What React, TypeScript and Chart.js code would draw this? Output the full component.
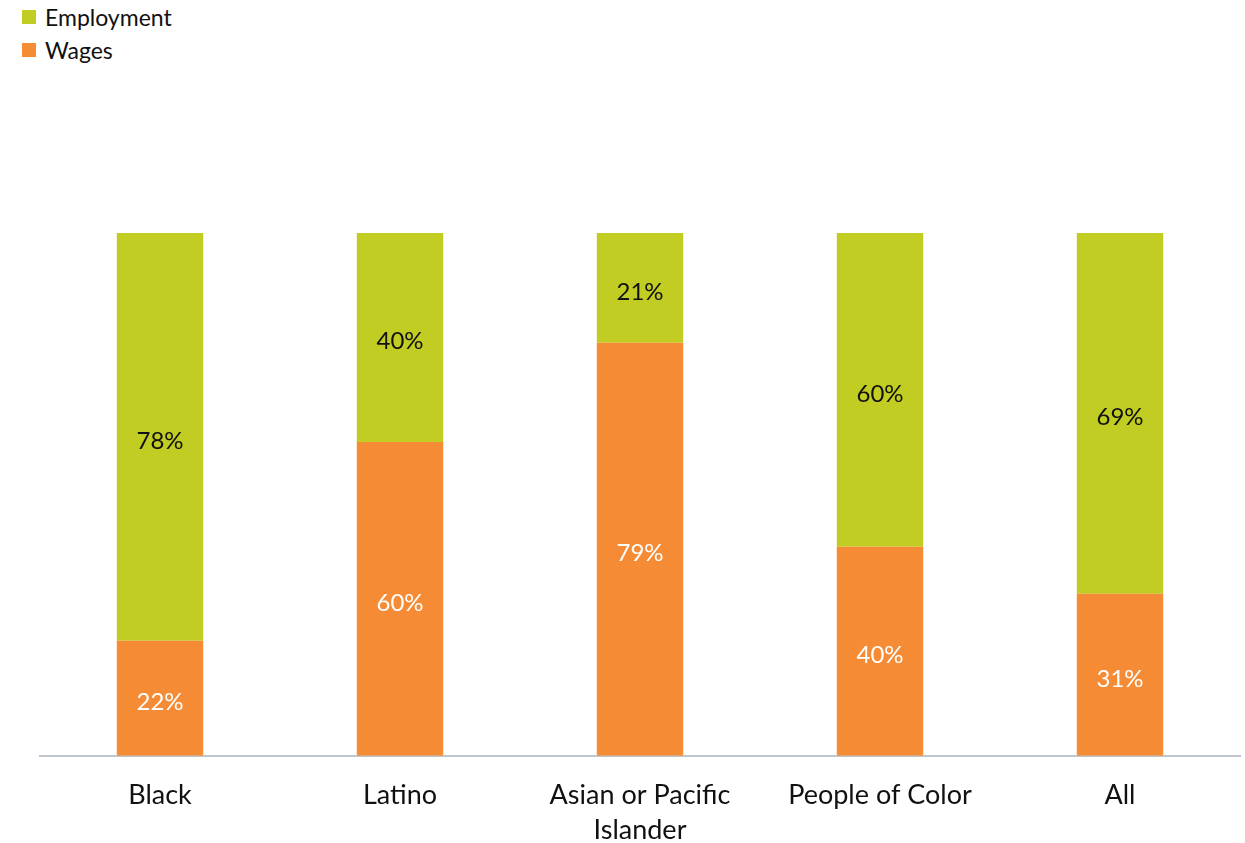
import React, { useEffect, useRef } from "react";
import { Chart, registerables } from "chart.js";

Chart.register(...registerables);

const categories: (string | string[])[] = [
  "Black",
  "Latino",
  ["Asian or Pacific", "Islander"],
  "People of Color",
  "All",
];
const wages = [22, 60, 79, 40, 31];
const employment = [78, 40, 21, 60, 69];

const seriesNames = ["Employment", "Wages"];
const seriesColors = ["#C2CD23", "#F58B35"];
const labelColors = ["#111111", "#FFFFFF"];

const FONT = "Lato, 'Open Sans', sans-serif";

const valueLabelPlugin = {
  id: "valueLabels",
  afterDatasetsDraw(chart: any) {
    const ctx = chart.ctx;
    ctx.save();
    ctx.font = `24px ${FONT}`;
    ctx.textAlign = "center";
    ctx.textBaseline = "middle";
    chart.data.datasets.forEach((ds: any, di: number) => {
      const meta = chart.getDatasetMeta(di);
      meta.data.forEach((bar: any, i: number) => {
        const v = ds.data[i];
        const cy = (bar.y + bar.base) / 2 + 4;
        ctx.fillStyle = ds.labelColor;
        ctx.fillText(`${v}%`, bar.x, cy);
      });
    });
    ctx.restore();
  },
};

export default function App() {
  const canvasRef = useRef<HTMLCanvasElement | null>(null);

  useEffect(() => {
    const canvas = canvasRef.current;
    if (!canvas) return;
    const chart = new Chart(canvas, {
      type: "bar",
      data: {
        labels: categories,
        datasets: [
          {
            label: seriesNames[1],
            data: wages,
            backgroundColor: seriesColors[1],
            labelColor: labelColors[1],
            barPercentage: 0.36,
            categoryPercentage: 1,
          } as any,
          {
            label: seriesNames[0],
            data: employment,
            backgroundColor: seriesColors[0],
            labelColor: labelColors[0],
            barPercentage: 0.36,
            categoryPercentage: 1,
          } as any,
        ],
      },
      options: {
        animation: false,
        responsive: false,
        maintainAspectRatio: false,
        layout: { padding: { left: 40, right: 5, top: 233, bottom: -27 } },
        plugins: {
          legend: { display: false },
          tooltip: { enabled: false },
        },
        scales: {
          x: {
            stacked: true,
            grid: { display: false, drawTicks: false },
            border: { display: true, color: "#BFC5CC", width: 2 },
            ticks: {
              color: "#111111",
              font: { family: FONT, size: 27, lineHeight: 1.3 },
              padding: 22,
              maxRotation: 0,
              autoSkip: false,
            },
          },
          y: {
            stacked: true,
            display: false,
            min: 0,
            max: 100,
          },
        },
      },
      plugins: [valueLabelPlugin],
    });
    return () => chart.destroy();
  }, []);

  return (
    <div style={{ position: "fixed", left: 0, top: 0, width: 1245, height: 843, background: "#fff", overflow: "hidden" }}>
      <div style={{ position: "absolute", left: 22, top: 0, fontFamily: FONT, fontSize: 23, color: "#111" }}>
        {seriesNames.map((name, i) => (
          <div key={name} style={{ display: "flex", alignItems: "center", height: 33 }}>
            <span style={{ display: "inline-block", width: 14, height: 14, background: seriesColors[i], marginRight: 9 }} />
            <span>{name}</span>
          </div>
        ))}
      </div>
      <canvas ref={canvasRef} width={1245} height={843} style={{ position: "absolute", left: 0, top: 0 }} />
    </div>
  );
}
